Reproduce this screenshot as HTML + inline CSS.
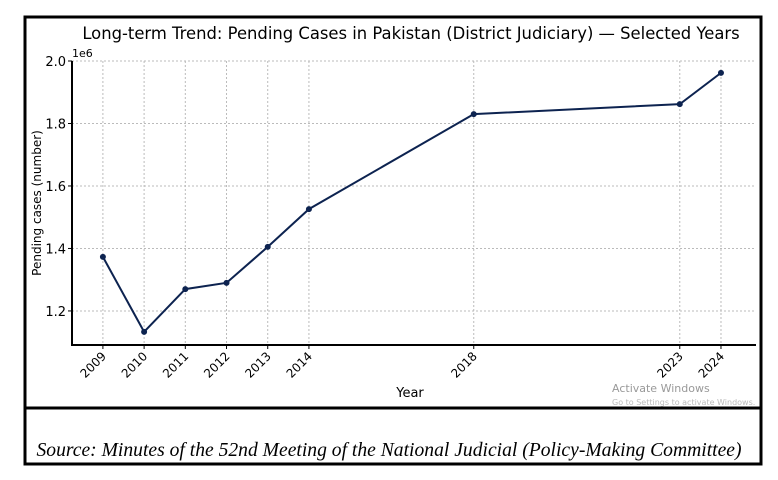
<!DOCTYPE html>
<html><head><meta charset="utf-8"><style>
html,body{margin:0;padding:0;background:#fff;width:778px;height:480px;overflow:hidden}
svg{display:block;font-family:"DejaVu Sans","Liberation Sans",sans-serif}
</style></head><body>
<svg id="chart" width="778" height="480" viewBox="0 0 778 480">
<rect x="25" y="17" width="736" height="447" fill="none" stroke="#000" stroke-width="3"/>
<line x1="25" y1="408" x2="761" y2="408" stroke="#000" stroke-width="3"/>
<text x="411" y="39" font-size="16.4" text-anchor="middle">Long-term Trend: Pending Cases in Pakistan (District Judiciary) — Selected Years</text>
<text x="72" y="57" font-size="11">1e6</text>
<text transform="translate(41,203) rotate(-90)" font-size="12" text-anchor="middle">Pending cases (number)</text>
<text x="410" y="397" font-size="13" text-anchor="middle">Year</text>
<text x="612" y="392" font-size="11" fill="#999">Activate Windows</text>
<text x="612" y="405" font-size="8" fill="#bbb">Go to Settings to activate Windows.</text>
<text x="389" y="456" font-size="19.6" font-style="italic" text-anchor="middle" font-family="Liberation Serif,serif">Source: Minutes of the 52nd Meeting of the National Judicial (Policy-Making Committee)</text>
<g id="grid"></g><g id="axes"></g><g id="series"></g>
</svg>
<script>
const years=[2009,2010,2011,2012,2013,2014,2018,2023,2024];
const values=[1.373e6,1.133e6,1.270e6,1.290e6,1.405e6,1.526e6,1.830e6,1.862e6,1.962e6];
const yTicks=[1.2e6,1.4e6,1.6e6,1.8e6,2.0e6];
const yTickLabels=["1.2","1.4","1.6","1.8","2.0"];
const NS="http://www.w3.org/2000/svg";
const L=72,R=756,T=61,B=345,x0=2008.25,x1=2024.85,y0=1.091e6,y1=2.0e6;
const sx=v=>L+(v-x0)/(x1-x0)*(R-L);
const sy=v=>B-(v-y0)/(y1-y0)*(B-T);
function mk(tag,attrs,parent){const e=document.createElementNS(NS,tag);for(const k in attrs)e.setAttribute(k,attrs[k]);document.getElementById(parent).appendChild(e);return e;}
yTicks.forEach((t,i)=>{
 const g=mk('line',{x1:L,x2:R,y1:sy(t),y2:sy(t),stroke:'#bbb','stroke-dasharray':'2,2','stroke-width':1},'grid');
 
 
 const tk=mk('line',{x1:L-4,x2:L,y1:sy(t),y2:sy(t),stroke:'#000'},'axes');
 
 
 const tx=mk('text',{x:L-6,y:sy(t)+5,'font-size':13,'text-anchor':'end'},'axes');
 tx.textContent=yTickLabels[i];
 
 
});
years.forEach(y=>{
 const g=mk('line',{x1:sx(y),x2:sx(y),y1:T,y2:B,stroke:'#bbb','stroke-dasharray':'2,2','stroke-width':1},'grid');
 
 
 const tk=mk('line',{x1:sx(y),x2:sx(y),y1:B,y2:B+4,stroke:'#000'},'axes');
 
 
 const tx=mk('text',{transform:`translate(${sx(y)+4},${B+12}) rotate(-45)`,'font-size':12,'text-anchor':'end'},'axes');
 tx.textContent=y;
 
 
});
const ax=mk('path',{d:`M${L},${T}V${B}H${R}`,fill:'none',stroke:'#000','stroke-width':2},'axes');


const ln=mk('polyline',{points:years.map((y,i)=>sx(y)+','+sy(values[i])).join(' '),fill:'none',stroke:'#0d2350','stroke-width':2},'series');


years.forEach((y,i)=>{
 const c=mk('circle',{cx:sx(y),cy:sy(values[i]),r:3,fill:'#0d2350'},'series');
 
 
});
</script>
</body></html>
